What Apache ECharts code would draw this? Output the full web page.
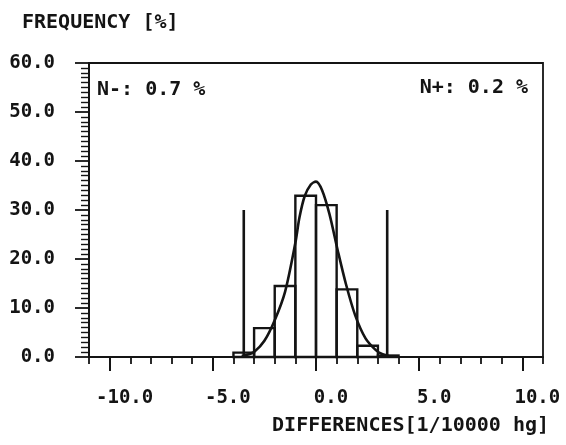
<!DOCTYPE html>
<html>
<head>
<meta charset="utf-8">
<script src="https://cdn.jsdelivr.net/npm/echarts@6/dist/echarts.min.js"></script>
<style>
html,body{margin:0;padding:0;background:#fff;}
#chart{width:566px;height:445px;}
</style>
</head>
<body>
<div id="chart"></div>
<script>
// ---- data ----
const binStart = [-4, -3, -2, -1, 0, 1, 2, 3];
const binEnd   = [-3, -2, -1, 0, 1, 2, 3, 4];
const binFreq  = [0.9, 5.9, 14.5, 32.9, 31.0, 13.8, 2.3, 0.3];

const curveX = [-3.6, -3.3, -3.0, -2.5, -2.0, -1.5, -1.0, -0.8, -0.55, -0.25, 0.0, 0.3, 0.65, 1.05, 1.45, 1.9, 2.4, 2.9, 3.2, 3.6];
const curveY = [0.2, 0.5, 1.0, 3.3, 7.5, 13.3, 23.3, 28.5, 32.8, 35.2, 35.8, 34.0, 29.2, 21.8, 14.9, 8.5, 3.8, 1.4, 0.6, 0.1];

const limitX = [-3.5, 3.45];
const limitHeight = [30, 30];

const xMajorTicks = [-10, -5, 0, 5, 10];
const yTitle = 'FREQUENCY [%]';
const xTitle = 'DIFFERENCES[1/10000 hg]';
const nMinusText = 'N-: 0.7 %';
const nPlusText = 'N+: 0.2 %';

// ---- chart ----
const ink = '#141414';
const mono = "'DejaVu Sans Mono', monospace";
const chart = echarts.init(document.getElementById('chart'), null, {renderer: 'canvas'});

const barData = binStart.map((s, i) => [s, binEnd[i], binFreq[i]]);
const curveData = curveX.map((x, i) => [x, curveY[i]]);
const limitData = limitX.map((x, i) => [x, limitHeight[i]]);

const option = {
  animation: false,
  backgroundColor: '#fff',
  grid: {left: 89, right: 23, top: 63, bottom: 88, show: true, borderColor: ink, borderWidth: 1.8, backgroundColor: 'transparent'},
  xAxis: [
    {
      type: 'value', min: -11, max: 11, interval: 1,
      axisLine: {show: true, onZero: false, lineStyle: {color: ink, width: 2}},
      axisTick: {show: true, inside: false, length: 7, lineStyle: {color: ink, width: 1.8}},
      axisLabel: {show: false},
      splitLine: {show: false}
    },
    {
      type: 'value', min: -11, max: 11, position: 'bottom',
      axisLine: {show: false, onZero: false},
      axisTick: {show: true, inside: false, length: 14, customValues: xMajorTicks, lineStyle: {color: ink, width: 2}},
      axisLabel: {show: true, customValues: xMajorTicks, margin: 32, padding: [0, 0, 0, 30],
        fontFamily: mono, fontWeight: 'bold', fontSize: 19, color: ink,
        formatter: v => Number(v).toFixed(1)},
      splitLine: {show: false}
    }
  ],
  yAxis: {
    type: 'value', min: 0, max: 60, interval: 10,
    axisLine: {show: true, onZero: false, lineStyle: {color: ink, width: 2}},
    axisTick: {show: true, inside: false, length: 14, lineStyle: {color: ink, width: 1.8}},
    minorTick: {show: true, splitNumber: 10, length: 8, lineStyle: {color: ink, width: 1.4}},
    axisLabel: {margin: 34, fontFamily: mono, fontWeight: 'bold', fontSize: 19, color: ink, formatter: v => Number(v).toFixed(1)},
    splitLine: {show: false}, minorSplitLine: {show: false}
  },
  series: [
    {
      type: 'custom', xAxisIndex: 0, yAxisIndex: 0,
      data: barData,
      renderItem: function (params, api) {
        const p0 = api.coord([api.value(0), 0]);
        const p1 = api.coord([api.value(1), api.value(2)]);
        return {type: 'rect', shape: {x: p0[0], y: p1[1], width: p1[0] - p0[0], height: p0[1] - p1[1]},
          style: {fill: 'none', stroke: ink, lineWidth: 2.4}};
      }
    },
    {
      type: 'custom', xAxisIndex: 0, yAxisIndex: 0,
      data: limitData,
      renderItem: function (params, api) {
        const p0 = api.coord([api.value(0), 0]);
        const p1 = api.coord([api.value(0), api.value(1)]);
        return {type: 'line', shape: {x1: p0[0], y1: p0[1], x2: p1[0], y2: p1[1]},
          style: {stroke: ink, lineWidth: 2.6}};
      }
    },
    {
      type: 'line', xAxisIndex: 0, yAxisIndex: 0,
      data: curveData, smooth: 0.3, symbol: 'none',
      lineStyle: {color: ink, width: 2.6}
    }
  ],
  graphic: [
    {type: 'text', left: 22, top: 13, style: {text: yTitle, font: "bold 20px 'DejaVu Sans Mono'", fill: ink}},
    {type: 'text', right: 17, top: 416, style: {text: xTitle, font: "bold 20px 'DejaVu Sans Mono'", fill: ink}},
    {type: 'text', left: 97, top: 80, style: {text: nMinusText, font: "bold 20px 'DejaVu Sans Mono'", fill: ink}},
    {type: 'text', right: 38, top: 78, style: {text: nPlusText, font: "bold 20px 'DejaVu Sans Mono'", fill: ink}}
  ]
};
chart.setOption(option);
</script>
</body>
</html>
